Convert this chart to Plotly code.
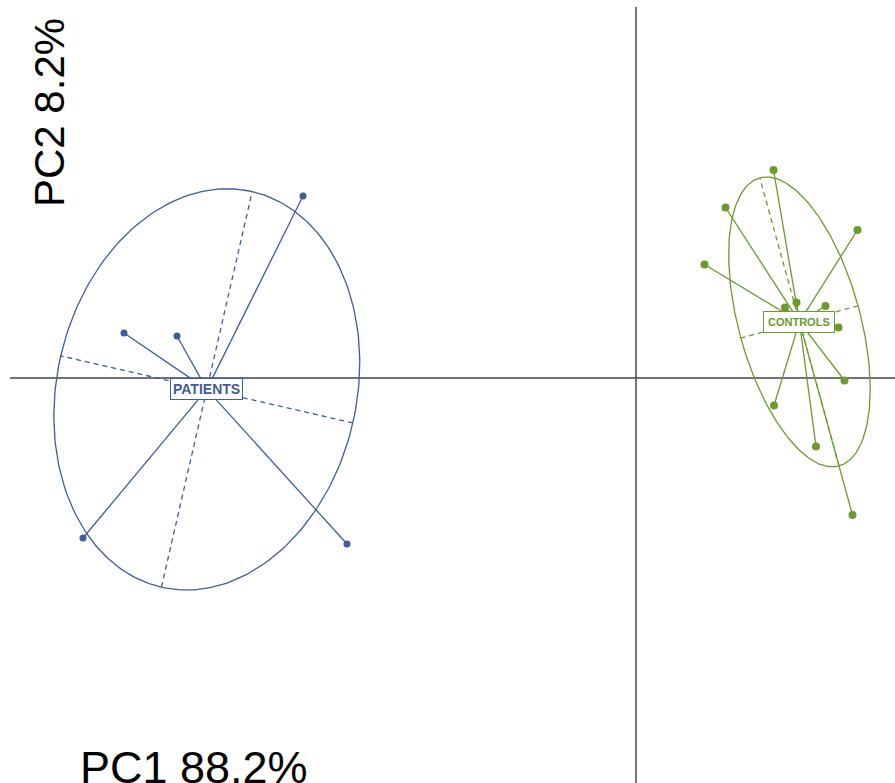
import numpy as np
import plotly.graph_objects as go

# ---- data (PC scores) ----
groups = ["PATIENTS", "CONTROLS"]
patients_pc1 = [-6.66, -10.24, -9.18, -11.06, -5.78]
patients_pc2 = [3.64, 0.90, 0.84, -3.20, -3.32]
controls_pc1 = [2.75, 1.79, 4.43, 1.37, 3.21, 2.98, 3.79, 4.05, 4.17, 2.76, 3.60, 4.33]
controls_pc2 = [4.16, 3.41, 2.96, 2.27, 1.51, 1.41, 1.44, 1.01, -0.05, -0.55, -1.37, -2.74]
axis_titles = ["PC1 88.2%", "PC2 8.2%"]

# ---- styles ----
colors = {"PATIENTS": "#3f5c9c", "CONTROLS": "#6b9b2c"}
marker_sizes = {"PATIENTS": 7, "CONTROLS": 8}
label_sizes = {"PATIENTS": 14, "CONTROLS": 11}
label_pads = {"PATIENTS": 2, "CONTROLS": 4}
cellipse = 1.5
x_range = [-12.72, 5.18]
y_range = [-8.1, 7.56]
hline_start = -12.52
vline_top = 7.42

fig = go.Figure()

# axis lines through the origin
fig.add_trace(go.Scatter(x=[hline_start, x_range[1]], y=[0, 0], mode="lines",
                         line=dict(color="#444444", width=1.5), hoverinfo="skip", showlegend=False))
fig.add_trace(go.Scatter(x=[0, 0], y=[y_range[0], vline_top], mode="lines",
                         line=dict(color="#444444", width=1.5), hoverinfo="skip", showlegend=False))

data = {"PATIENTS": (patients_pc1, patients_pc2), "CONTROLS": (controls_pc1, controls_pc2)}
annotations = []
for g in groups:
    xs = np.array(data[g][0], dtype=float)
    ys = np.array(data[g][1], dtype=float)
    c = colors[g]
    cx, cy = xs.mean(), ys.mean()
    cov = np.cov(np.vstack([xs, ys]), ddof=0)
    vals, vecs = np.linalg.eigh(cov)
    semis = cellipse * np.sqrt(vals)
    t = np.linspace(0, 2 * np.pi, 240)
    ex = cx + semis[0] * np.cos(t) * vecs[0, 0] + semis[1] * np.sin(t) * vecs[0, 1]
    ey = cy + semis[0] * np.cos(t) * vecs[1, 0] + semis[1] * np.sin(t) * vecs[1, 1]
    fig.add_trace(go.Scatter(x=ex, y=ey, mode="lines", line=dict(color=c, width=1.3),
                             hoverinfo="skip", showlegend=False))
    # ellipse axes (dashed)
    for k in range(2):
        ax_x = [cx - semis[k] * vecs[0, k], cx + semis[k] * vecs[0, k]]
        ax_y = [cy - semis[k] * vecs[1, k], cy + semis[k] * vecs[1, k]]
        fig.add_trace(go.Scatter(x=ax_x, y=ax_y, mode="lines",
                                 line=dict(color=c, width=1.3, dash="5px,4px"),
                                 hoverinfo="skip", showlegend=False))
    # star lines
    sx, sy = [], []
    for xi, yi in zip(xs, ys):
        sx += [cx, xi, None]
        sy += [cy, yi, None]
    fig.add_trace(go.Scatter(x=sx, y=sy, mode="lines", line=dict(color=c, width=1.3),
                             hoverinfo="skip", showlegend=False))
    fig.add_trace(go.Scatter(x=xs, y=ys, mode="markers", name=g,
                             marker=dict(color=c, size=marker_sizes[g]), showlegend=False))
    annotations.append(dict(x=cx, y=cy, xref="x", yref="y", text="<b>%s</b>" % g,
                            showarrow=False, font=dict(family="Liberation Sans", size=label_sizes[g], color=c),
                            bgcolor="white", bordercolor=c, borderwidth=1, borderpad=label_pads[g]))

annotations.append(dict(x=78 / 895, y=1 - 767 / 783, xref="paper", yref="paper", xanchor="left",
                        yanchor="middle", text=axis_titles[0], showarrow=False,
                        font=dict(family="Liberation Sans", size=45, color="black")))
annotations.append(dict(x=50 / 895, y=1 - 113 / 783, xref="paper", yref="paper", xanchor="center",
                        yanchor="middle", text=axis_titles[1], showarrow=False, textangle=-90,
                        font=dict(family="Liberation Sans", size=42, color="black")))

fig.update_layout(
    width=895, height=783, margin=dict(l=0, r=0, t=0, b=0),
    paper_bgcolor="white", plot_bgcolor="white",
    xaxis=dict(range=x_range, visible=False, showgrid=False, zeroline=False),
    yaxis=dict(range=y_range, visible=False, showgrid=False, zeroline=False),
    annotations=annotations,
)
fig.write_html("out.html", config={"displayModeBar": False},
               post_script="document.body.style.margin='0px';")
